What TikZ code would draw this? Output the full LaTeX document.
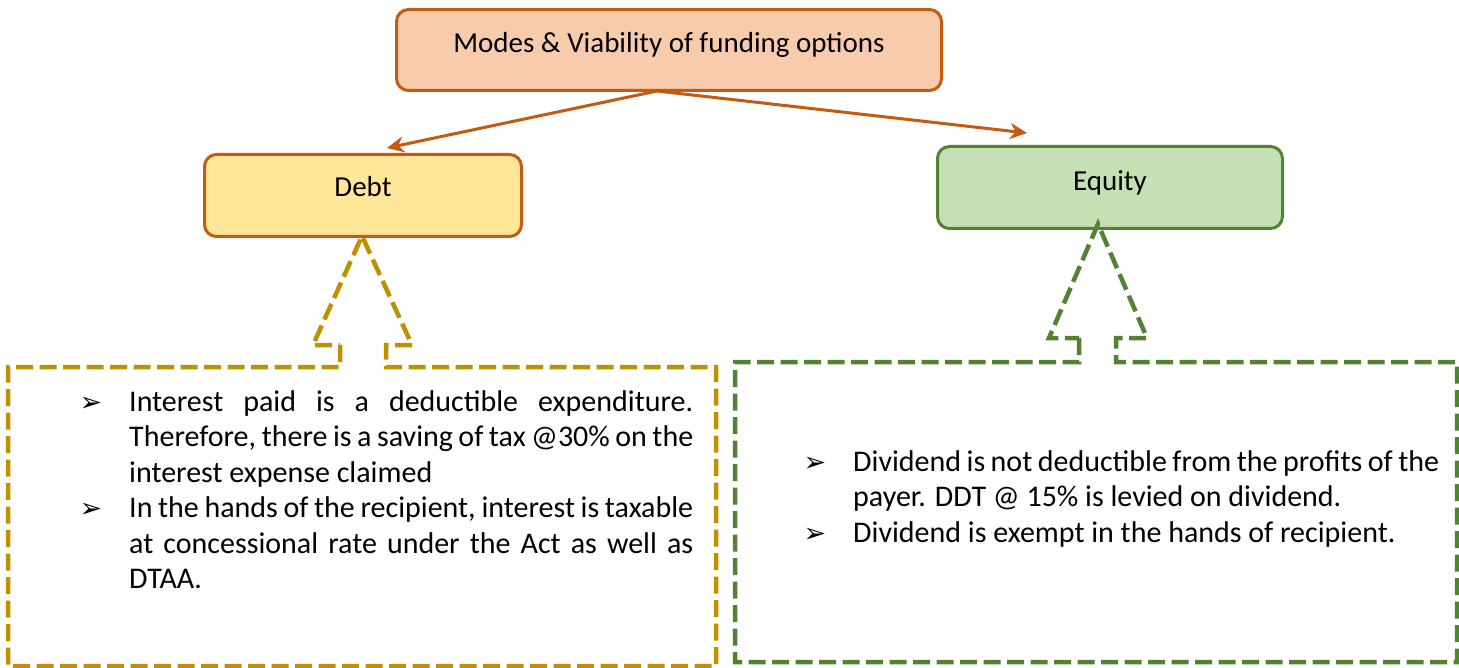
\documentclass[tikz,border=0pt]{standalone}
\usepackage{fontspec}
\setmainfont{Carlito}
\newfontfamily\symfont{DejaVu Sans}
\usetikzlibrary{arrows.meta}
\definecolor{orangeb}{HTML}{C55A11}
\definecolor{salmonf}{HTML}{F8CBAD}
\definecolor{yellowf}{HTML}{FFE699}
\definecolor{greenf}{HTML}{C5E0B4}
\definecolor{greenb}{HTML}{548235}
\definecolor{goldb}{HTML}{BF9000}
\hyphenpenalty=10000
\exhyphenpenalty=10000
\newcommand{\bulmark}{\leavevmode\llap{\symfont\fontsize{27pt}{27pt}\selectfont ➢\hspace{27pt}}}
\newcommand{\shiftby}[2]{\raisebox{#1}[0pt][0pt]{#2}}
\tikzset{
  box/.style={rounded corners=12pt, line width=3pt, inner sep=0pt, font=\fontsize{29pt}{34pt}\selectfont},
  conn/.style={draw=orangeb, line width=3pt, -{Stealth[length=17pt,width=16pt]}},
  callout/.style={line width=4.5pt, dash pattern=on 17pt off 6.5pt},
  bodytext/.style={inner sep=0pt, align=justify, font=\fontsize{30pt}{35.5pt}\selectfont}
}
\begin{document}
\begin{tikzpicture}[x=1pt,y=-1pt]
\useasboundingbox (0,0) rectangle (1459,668);
\fill[white] (0,0) rectangle (1459,668);
% boxes
\node[box, draw=orangeb, fill=salmonf, minimum width=545pt, minimum height=81pt] (top) at (669,50) {\shiftby{-3pt}{Modes \& Viability of funding options}};
\node[box, draw=orangeb, fill=yellowf, minimum width=317pt, minimum height=82pt] (debt) at (363,195.5) {\shiftby{-1.5pt}{Debt}};
\node[box, draw=greenb, fill=greenf, minimum width=345pt, minimum height=82pt] (equity) at (1110,187.5) {\shiftby{-3.5pt}{Equity}};
% connectors
\coordinate (topbot) at (657,91);
\coordinate (debtend) at (387,148);
\coordinate (eqend) at (1027,133);
\draw[conn] (topbot) -- (debtend);
\draw[conn] (topbot) -- (eqend);
% callouts
\draw[callout, draw=goldb] (340,345) -- (340,367) -- (8,367) -- (8,666) -- (716,666) -- (716,367) -- (386,367) -- (386,345) -- (412,345) -- (362,236) -- (313,345) -- cycle;
\draw[callout, draw=greenb] (1079,338) -- (1079,362) -- (735,362) -- (735,662) -- (1457,662) -- (1457,362) -- (1116,362) -- (1116,338) -- (1147,338) -- (1098,224) -- (1049,338) -- cycle;
% texts
\node[bodytext, text width=564pt, anchor=north west] (debttext) at (129,390) {\bulmark Interest paid is a deductible expenditure.\linebreak Therefore, there is a saving of tax @30\% on the\linebreak interest expense claimed\par
\bulmark In the hands of the recipient, interest is taxable\linebreak at concessional rate under the Act as well as\linebreak DTAA.};
\node[bodytext, text width=586pt, anchor=north west] (eqtext) at (853,450) {\bulmark Dividend is not deductible from the profits of the\linebreak payer. DDT @ 15\% is levied on dividend.\par
\bulmark Dividend is exempt in the hands of recipient.};
\end{tikzpicture}
\end{document}
